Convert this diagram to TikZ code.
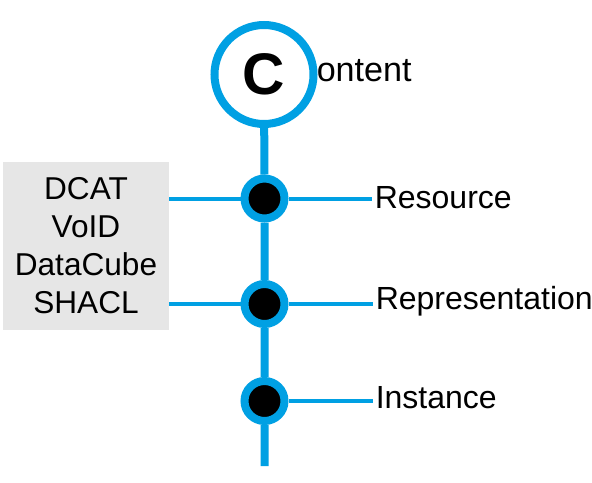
\documentclass[tikz,border=0pt]{standalone}
\usepackage{fontspec}
\setmainfont{Liberation Sans}
\definecolor{lineblue}{HTML}{00A0E3}
\definecolor{boxgray}{HTML}{E6E6E6}
\begin{document}
\begin{tikzpicture}[x=0.75pt,y=-0.75pt,
  dotnode/.style={circle,draw=lineblue,line width=6pt,fill=black,minimum size=30pt,inner sep=0pt},
  bigc/.style={circle,draw=lineblue,line width=6pt,fill=white,minimum size=74.25pt,inner sep=0pt,font=\bfseries\fontsize{44}{50}\selectfont},
  lbl/.style={anchor=base west,inner sep=0pt,font=\fontsize{24}{28}\selectfont},
  spine/.style={draw=lineblue,line width=6pt},
  branch/.style={draw=lineblue,line width=3pt},
  graybox/.style={fill=boxgray,minimum width=124.5pt,minimum height=126pt,inner sep=0pt,align=center,font=\fontsize{23.7}{28.5}\selectfont}]
\useasboundingbox (0,0) rectangle (592,482);
\node[graybox] (box) at (86,246) {DCAT\\VoID\\DataCube\\SHACL};
\node[bigc] (c) at (264,74.5) {C};
\node[lbl,font=\fontsize{25.6}{30}\selectfont] (t0) at (316.5,81.7) {ontent};
\node[dotnode] (d1) at (264.5,198.5) {};
\node[dotnode] (d2) at (264.5,304) {};
\node[dotnode] (d3) at (264.5,401) {};
\coordinate (e) at (264.5,466);
\node[lbl] (l1) at (374.5,208.3) {Resource};
\node[lbl] (l2) at (375.5,309.7) {Representation};
\node[lbl] (l3) at (375.5,408.7) {Instance};
\draw[spine] (c) -- (d1) -- (d2) -- (d3) -- (e);
\draw[branch] (box.east |- d1) -- (d1);
\draw[branch] (box.east |- d2) -- (d2);
\draw[branch,shorten >=2pt] (d1) -- (d1 -| l1.west);
\draw[branch,shorten >=2pt] (d2) -- (d2 -| l2.west);
\draw[branch,shorten >=2pt] (d3) -- (d3 -| l3.west);
\end{tikzpicture}
\end{document}
